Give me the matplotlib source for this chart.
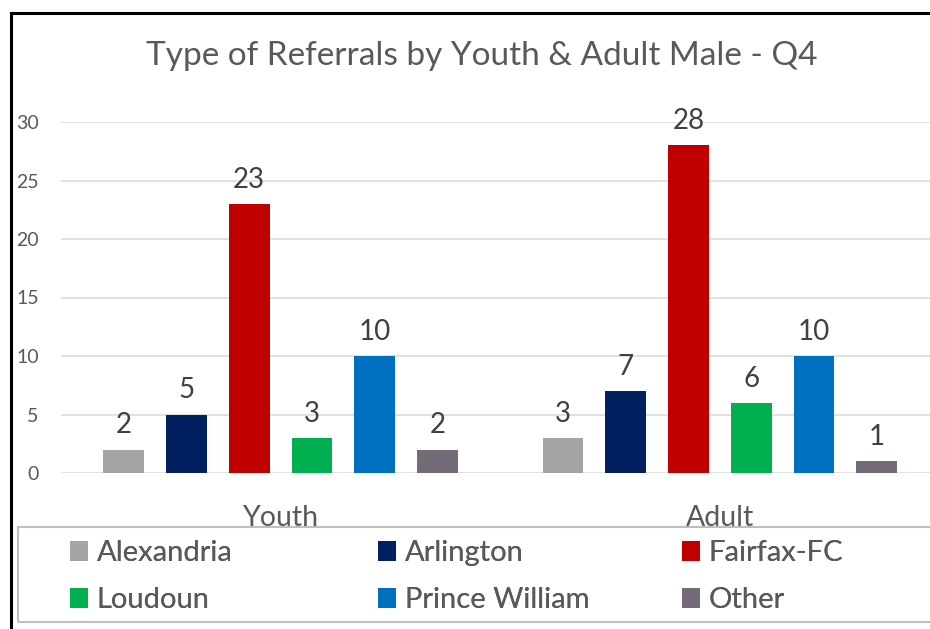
import matplotlib.pyplot as plt
from matplotlib.patches import Rectangle
import numpy as np

groups = ['Youth', 'Adult']
regions = ['Alexandria', 'Arlington', 'Fairfax-FC', 'Loudoun', 'Prince William', 'Other']
colors = ['#A5A5A5', '#002060', '#C00000', '#00B050', '#0070C0', '#756B78']
youth = [2, 5, 23, 3, 10, 2]
adult = [3, 7, 28, 6, 10, 1]
values = [youth, adult]

plt.rcParams['font.family'] = ['Lato', 'DejaVu Sans']
txt = '#595959'

fig = plt.figure(figsize=(9.3, 6.29), dpi=100)
ax = fig.add_axes([61/930, 156/629, 869/930, 351/629])

slot = len(regions) + 1
bars = []
for i, reg in enumerate(regions):
    xs = [g*slot + i for g in range(len(groups))]
    vals = [v[i] for v in values]
    b = ax.bar(xs, vals, width=0.65, color=colors[i], label=reg, zorder=3)
    bars.append(b)
    for x, v in zip(xs, vals):
        ax.annotate(str(v), (x, v), xytext=(0, 8), textcoords='offset points',
                    ha='center', va='bottom', fontsize=20, color='#404040')

ax.set_xlim(-1, 12.85)
ax.set_ylim(0, 30)
ax.set_yticks(np.arange(0, 31, 5))
ax.grid(axis='y', color='#D9D9D9', lw=1.1, zorder=0)
for s in ax.spines.values():
    s.set_visible(False)
ax.set_xticks([g*slot + (len(regions)-1)/2 for g in range(len(groups))])
ax.set_xticklabels(groups)
ax.tick_params(axis='x', length=0, pad=23, labelsize=20.5, labelcolor=txt)
ax.tick_params(axis='y', length=0, pad=16, labelsize=14, labelcolor=txt)

fig.text(482/930, 1-56/629, 'Type of Referrals by Youth & Adult Male - Q4',
         ha='center', va='center', fontsize=24, color=txt)

# legend frame and three columns
fig.add_artist(Rectangle((18/930, 1-622/629), 1.0, 95/629, transform=fig.transFigure,
                         fill=False, edgecolor='#BFBFBF', lw=1.5))
col_x = [70, 378, 682]
for c in range(3):
    hs = [bars[c], bars[c+3]]
    lg = fig.legend(hs, [regions[c], regions[c+3]], loc='center left',
                    bbox_to_anchor=(col_x[c]/930, 1-576.5/629), frameon=False,
                    fontsize=21, borderpad=0, borderaxespad=0, handlelength=0.62,
                    handleheight=0.7, handletextpad=0.3, labelspacing=0.72,
                    labelcolor=txt)
    fig.add_artist(lg)

# outer border of the chart (cropped at right/bottom)
fig.add_artist(Rectangle((10.5/930, -0.5), 1.5, 1.5 - 13/629, transform=fig.transFigure,
                         fill=False, edgecolor='black', lw=2.2))

plt.savefig('out.png', dpi=100)
